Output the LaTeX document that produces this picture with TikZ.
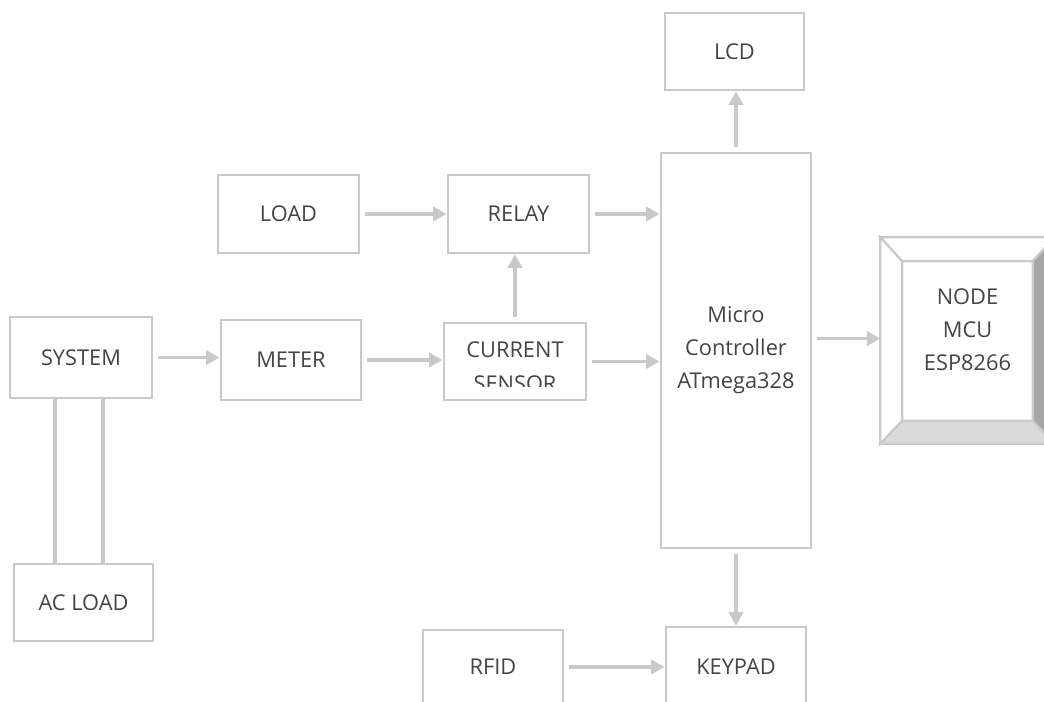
\documentclass[tikz,border=0pt]{standalone}
\usepackage{fontspec}
\setmainfont{Open Sans}
\usetikzlibrary{positioning,arrows.meta,calc}
\definecolor{edge}{HTML}{C9C9C9}
\definecolor{ink}{HTML}{444444}
\definecolor{bevdark}{HTML}{A6A6A6}
\definecolor{bevlight}{HTML}{DADADA}
\tikzset{
  blk/.style={draw=edge,line width=0.8pt,text=ink,font=\fontsize{6.2}{9.4}\selectfont,
    align=center,inner sep=0pt},
  txt/.style={text=ink,font=\fontsize{6.2}{9.4}\selectfont,align=center,inner sep=0pt},
  flow/.style={-{Triangle[length=3.8pt,width=4pt]},draw=edge,line width=0.9pt,shorten <=1.2pt},
  wire/.style={draw=edge,line width=0.9pt},
  bev/.style={draw=edge,line width=0.6pt},
}

\begin{document}
\begin{tikzpicture}
  \useasboundingbox (0,0) rectangle (10.44,-7.02);
  \clip (0,0) rectangle (10.44,-7.02);
  % blocks
  \node[blk,minimum width=1.39cm,minimum height=0.77cm] (lcd) at (7.345,-0.515) {LCD};
  \node[blk,minimum width=1.50cm,minimum height=3.95cm] (mc) at (7.36,-3.505)
    {Micro\\Controller\\ATmega328};
  \node[blk,minimum width=1.41cm,minimum height=0.78cm] (load) at (2.885,-2.14) {LOAD};
  \node[blk,minimum width=1.41cm,minimum height=0.78cm] (relay) at (5.185,-2.14) {RELAY};
  \node[blk,minimum width=1.42cm,minimum height=0.81cm] (sys) at (0.81,-3.575) {SYSTEM};
  \node[blk,minimum width=1.40cm,minimum height=0.80cm] (meter) at (2.91,-3.60) {METER};
  \node[blk,minimum width=1.42cm,minimum height=0.77cm] (cs) at (5.15,-3.615) {};
  \node[blk,minimum width=1.39cm,minimum height=0.77cm] (ac) at (0.835,-6.025) {AC LOAD};
  \node[blk,minimum width=1.40cm,minimum height=0.74cm] (rfid) at (4.93,-6.67) {RFID};
  \node[blk,minimum width=1.40cm,minimum height=0.80cm] (keypad) at (7.36,-6.67) {KEYPAD};
  % sensor label, cut off at the bottom
  \begin{scope}
    \clip (cs.north west) rectangle ($(cs.south east)+(0,0.15)$);
    \node[txt,font=\fontsize{6.2}{9.8}\selectfont] (cstxt) at ($(cs.center)+(0,-0.05)$)
      {CURRENT\\SENSOR};
  \end{scope}
  % node mcu, bevelled box
  \node[minimum width=1.73cm,minimum height=2.05cm,inner sep=0pt] (nodemcu) at (9.675,-3.405) {};
  \node[minimum width=1.29cm,minimum height=1.58cm,inner sep=0pt] (mcuface) at (9.675,-3.41) {};
  \filldraw[bev,fill=white] (nodemcu.north west) -- (nodemcu.north east) -- (mcuface.north east)
    -- (mcuface.north west) -- cycle;
  \filldraw[bev,fill=white] (nodemcu.north west) -- (mcuface.north west) -- (mcuface.south west)
    -- (nodemcu.south west) -- cycle;
  \filldraw[bev,fill=bevdark] (nodemcu.north east) -- (mcuface.north east) -- (mcuface.south east)
    -- (nodemcu.south east) -- cycle;
  \filldraw[bev,fill=bevlight] (nodemcu.south west) -- (mcuface.south west) -- (mcuface.south east)
    -- (nodemcu.south east) -- cycle;
  \draw[bev] (mcuface.north west) rectangle (mcuface.south east);
  \node[txt] (mcutxt) at ($(mcuface.center)+(0,0.11)$) {NODE\\MCU\\ESP8266};
  % connectors
  \draw[flow] (load.east) -- (relay.west);
  \draw[flow] (relay.east) -- (relay.east -| mc.west);
  \draw[flow] (sys.east) -- (sys.east -| meter.west);
  \draw[flow] (meter.east) -- (meter.east -| cs.west);
  \draw[flow] (cs.east) -- (cs.east -| mc.west);
  \draw[flow] (cs.north) -- (cs.north |- relay.south);
  \draw[flow] (mc.north) -- (mc.north |- lcd.south);
  \draw[flow] (mc.south) -- (mc.south |- keypad.north);
  \draw[flow] ([yshift=0.02cm]nodemcu.west -| mc.east) -- ([yshift=0.02cm]nodemcu.west);
  \draw[flow] (rfid.east) -- (rfid.east -| keypad.west);
  \draw[wire] ([xshift=-0.26cm]sys.south) -- ([xshift=-0.26cm]sys.south |- ac.north);
  \draw[wire] ([xshift=0.22cm]sys.south) -- ([xshift=0.22cm]sys.south |- ac.north);
\end{tikzpicture}
\end{document}
